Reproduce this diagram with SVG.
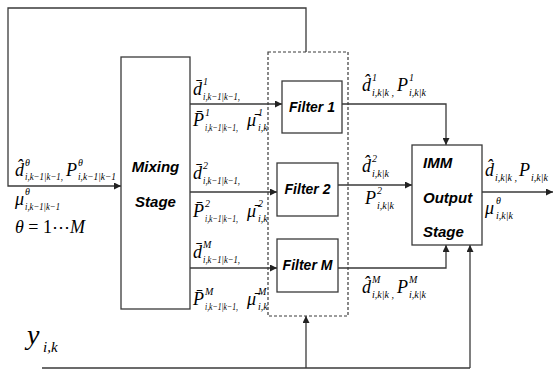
<svg xmlns="http://www.w3.org/2000/svg" width="554" height="374" viewBox="0 0 554 374">
<style>
.ln{fill:none;stroke:#3a3a3a;stroke-width:1.3}
.bx{fill:#fff;stroke:#3a3a3a;stroke-width:1.3}
.ds{fill:none;stroke:#3a3a3a;stroke-width:1.2;stroke-dasharray:3,2}
.lb{font-family:"Liberation Sans",Arial,sans-serif;font-weight:bold;font-style:italic;font-size:15px;fill:#000}
.fl{font-size:14px}
.b{font-family:"Liberation Serif","Times New Roman",serif;font-style:italic;font-size:18px;fill:#000}
.s{font-family:"Liberation Serif","Times New Roman",serif;font-style:italic;font-size:10px;fill:#000}
.u{font-style:normal}
.y{font-size:28px}
.ys{font-size:15px}
</style>
<defs>
<marker id="ar" viewBox="0 0 8 8" refX="8" refY="4" markerWidth="7" markerHeight="7" markerUnits="userSpaceOnUse" orient="auto">
<path d="M0,0 L8,4 L0,8 Z" fill="#222"/>
</marker>
</defs>
<g id="connectors">
<polyline class="ln" points="306,52 306,8 8,8 8,186 121,186" marker-end="url(#ar)"/>
<line class="ln" x1="190" y1="104" x2="282" y2="104" marker-end="url(#ar)"/>
<line class="ln" x1="190" y1="192" x2="277" y2="192" marker-end="url(#ar)"/>
<line class="ln" x1="190" y1="268" x2="277" y2="268" marker-end="url(#ar)"/>
<polyline class="ln" points="342,104 446,104 446,145" marker-end="url(#ar)"/>
<line class="ln" x1="338" y1="185" x2="412" y2="185" marker-end="url(#ar)"/>
<polyline class="ln" points="338,268 446,268 446,245" marker-end="url(#ar)"/>
<line class="ln" x1="482" y1="192" x2="553" y2="192" marker-end="url(#ar)"/>
<line class="ln" x1="42" y1="368" x2="470" y2="368"/>
<line class="ln" x1="306" y1="368" x2="306" y2="316" marker-end="url(#ar)"/>
<line class="ln" x1="470" y1="368" x2="470" y2="245" marker-end="url(#ar)"/>
</g>
<g id="filterbank"><rect class="ds" x="268" y="52" width="80" height="264"/></g>
<g id="mixing"><rect class="bx" x="121" y="57" width="69" height="252"/>
<text class="lb" x="155.5" y="172" text-anchor="middle">Mixing</text>
<text class="lb" x="155.5" y="207" text-anchor="middle">Stage</text></g>
<g id="filter1"><rect class="bx" x="282" y="81" width="60" height="52"/>
<text class="lb fl" x="312" y="112" text-anchor="middle">Filter 1</text></g>
<g id="filter2"><rect class="bx" x="277" y="163" width="61" height="53"/>
<text class="lb fl" x="307.5" y="194" text-anchor="middle">Filter 2</text></g>
<g id="filterM"><rect class="bx" x="277" y="239" width="61" height="53"/>
<text class="lb fl" x="307.5" y="270" text-anchor="middle">Filter M</text></g>
<g id="imm"><rect class="bx" x="412" y="145" width="70" height="100"/>
<text class="lb" x="423" y="168">IMM</text>
<text class="lb" x="423" y="203">Output</text>
<text class="lb" x="423" y="237">Stage</text></g>
<g id="labels">
<text class="b" x="15" y="176">d̂</text><text class="s" x="25" y="166">θ</text><text class="s" x="25" y="180" textLength="38" lengthAdjust="spacingAndGlyphs">i,k−1|k−1,</text>
<text class="b" x="66" y="176">P</text><text class="s" x="78" y="166">θ</text><text class="s" x="78" y="180" textLength="38" lengthAdjust="spacingAndGlyphs">i,k−1|k−1</text>
<text class="b" x="15" y="205">μ</text><text class="s" x="25" y="195">θ</text><text class="s" x="25" y="210" textLength="35" lengthAdjust="spacingAndGlyphs">i,k−1|k−1</text>
<text class="b" x="15" y="233">θ <tspan class="u">= 1⋯</tspan>M</text>
<text class="b" x="193" y="95">d̄</text><text class="s" x="203" y="85">1</text><text class="s" x="203" y="100" textLength="37" lengthAdjust="spacingAndGlyphs">i,k−1|k−1,</text>
<text class="b" x="193" y="126">P̄</text><text class="s" x="205" y="116">1</text><text class="s" x="205" y="131" textLength="33" lengthAdjust="spacingAndGlyphs">i,k−1|k−1,</text>
<text class="b" x="247" y="126">μ̄</text><text class="s" x="258" y="116">1</text><text class="s" x="258" y="131">i,k</text>
<text class="b" x="193" y="179">d̄</text><text class="s" x="203" y="169">2</text><text class="s" x="203" y="184" textLength="37" lengthAdjust="spacingAndGlyphs">i,k−1|k−1,</text>
<text class="b" x="193" y="217">P̄</text><text class="s" x="205" y="207">2</text><text class="s" x="205" y="222" textLength="33" lengthAdjust="spacingAndGlyphs">i,k−1|k−1,</text>
<text class="b" x="247" y="217">μ̄</text><text class="s" x="258" y="207">2</text><text class="s" x="258" y="222">i,k</text>
<text class="b" x="193" y="258">d̄</text><text class="s" x="203" y="248">M</text><text class="s" x="203" y="263" textLength="37" lengthAdjust="spacingAndGlyphs">i,k−1|k−1,</text>
<text class="b" x="193" y="305">P̄</text><text class="s" x="205" y="295">M</text><text class="s" x="205" y="310" textLength="33" lengthAdjust="spacingAndGlyphs">i,k−1|k−1,</text>
<text class="b" x="247" y="305">μ̄</text><text class="s" x="258" y="295">M</text><text class="s" x="258" y="310">i,k</text>
<text class="b" x="362" y="91">d̂</text><text class="s" x="372" y="81">1</text><text class="s" x="372" y="96">i,k|k ,</text>
<text class="b" x="397" y="91">P</text><text class="s" x="409" y="81">1</text><text class="s" x="409" y="96">i,k|k</text>
<text class="b" x="362" y="172">d̂</text><text class="s" x="372" y="162">2</text><text class="s" x="372" y="177">i,k|k</text>
<text class="b" x="365" y="204">P</text><text class="s" x="377" y="194">2</text><text class="s" x="377" y="209">i,k|k</text>
<text class="b" x="362" y="293">d̂</text><text class="s" x="372" y="283">M</text><text class="s" x="372" y="298">i,k|k ,</text>
<text class="b" x="397" y="293">P</text><text class="s" x="409" y="283">M</text><text class="s" x="409" y="298">i,k|k</text>
<text class="b" x="485" y="176">d̂</text><text class="s" x="495" y="181">i,k|k ,</text>
<text class="b" x="519" y="176">P</text><text class="s" x="531" y="181">i,k|k</text>
<text class="b" x="485" y="214">μ</text><text class="s" x="496" y="204">θ</text><text class="s" x="496" y="219">i,k|k</text>
<text class="b y" x="27" y="344">y</text><text class="s ys" x="43" y="352">i,k</text>
</g>
</svg>
